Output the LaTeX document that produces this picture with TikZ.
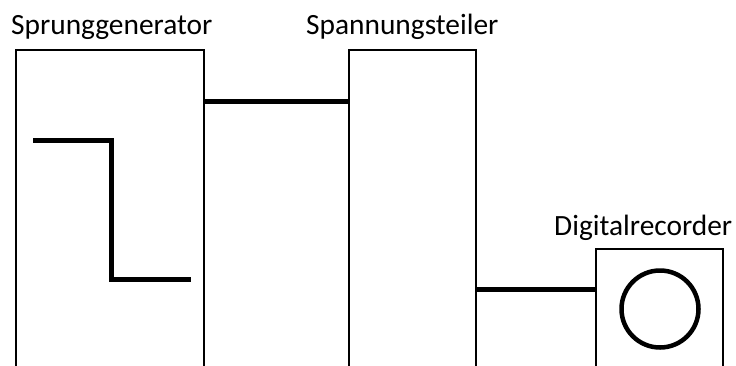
\documentclass[tikz,border=0pt]{standalone}
\usepackage{fontspec}
\setmainfont{Carlito}
\begin{document}
\begin{tikzpicture}[x=1bp,y=-1bp,
  blk/.style={draw=black,line width=2.8bp,inner sep=0pt,rectangle},
  conn/.style={line width=5bp},
  lbl/.style={anchor=base west,inner sep=0pt,font=\fontsize{29.5}{32}\selectfont}]
\useasboundingbox (0,0) rectangle (736,365);
\clip (0,0) rectangle (736,365);
\fill[white] (0,0) rectangle (736,365);
\node[blk,minimum width=188bp,minimum height=370bp] (box1) at (110,235) {};
\node[blk,minimum width=127bp,minimum height=370bp] (box2) at (412.5,235) {};
\node[blk,minimum width=127bp,minimum height=171bp] (box3) at (659.5,334.5) {};
\node[draw,circle,line width=4.5bp,minimum size=77bp,inner sep=0pt] (rec) at (660,309) {};
\coordinate (c1) at (0,101);
\coordinate (c2) at (0,289.5);
\draw[conn] (box1.east |- c1) -- (box2.west |- c1);
\draw[conn] (box2.east |- c2) -- (box3.west |- c2);
\coordinate (s1) at (33,140.5);
\coordinate (s2) at (111.5,140.5);
\coordinate (s3) at (111.5,279);
\coordinate (s4) at (190.5,279);
\draw[conn] (s1) -- (s2) -- (s3) -- (s4);
\node[lbl] (t1) at (11,34) {Sprunggenerator};
\node[lbl] (t2) at (306,34) {Spannungsteiler};
\node[lbl] (t3) at (554,235.5) {Digitalrecorder};
\end{tikzpicture}
\end{document}
